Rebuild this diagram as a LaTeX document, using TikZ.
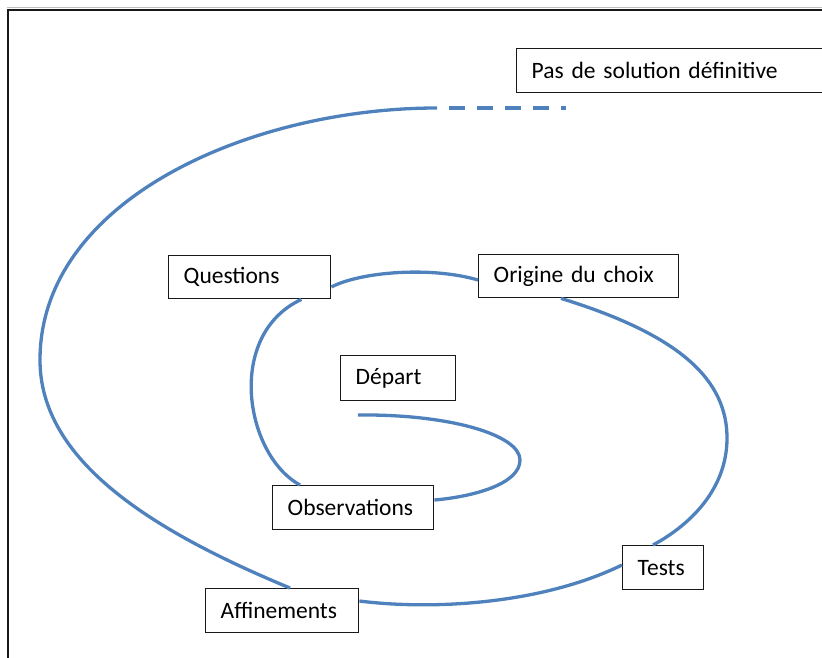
\documentclass[tikz,border=0pt]{standalone}
\usepackage{fontspec}
\setmainfont[WordSpace=0.6]{Carlito}
\usetikzlibrary{calc}
\definecolor{spiralblue}{RGB}{79,129,189}
\begin{document}
\begin{tikzpicture}[x=1pt,y=-1pt,
  box/.style={draw=black!90, line width=1.4pt, fill=white, rectangle, anchor=north west,
    inner xsep=15pt, inner ysep=0pt, align=left,
    font=\fontsize{23.5}{28}\selectfont},
  spiral/.style={draw=spiralblue, line width=3.3pt},
  frameline/.style={draw=black!90, line width=2pt}]
\useasboundingbox (0,0) rectangle (822,658);
% frame (top and left sides visible)
\draw[black!25, line width=1pt] (7,7.5) -- (822,7.5);
\draw[frameline] (822,10) -- (8,10) -- (8,658);
% boxes
\node[box, text width=276pt, minimum height=44pt] (pas) at (516,48) {Pas de solution définitive};
\node[box, text width=132pt, minimum height=43pt] (q) at (168,255) {Questions};
\node[box, text width=170pt, minimum height=43pt] (orig) at (478,254) {Origine du choix};
\node[box, text width=85pt, minimum height=45pt] (dep) at (340,355) {Départ};
\node[box, text width=131pt, minimum height=44pt] (obs) at (272,485) {Observations};
\node[box, text width=51pt, minimum height=44pt] (tests) at (622,545) {Tests};
\node[box, text width=123pt, minimum height=44pt] (aff) at (205,588) {Affinements};
% spiral coordinates
\coordinate (start) at (358,415);
\coordinate (solidend) at (437,108);
\coordinate (dashend) at (566,108);
% spiral segments
\draw[spiral] (start) .. controls (450,414) and (520,435) .. (520,460)
  .. controls (520,485) and (470,497) .. ($(obs.north east)+(0,15)$);
\draw[spiral] ($(obs.north west)+(28,0)$) .. controls (245,455) and (225,335) .. ($(q.south east)+(-30,0)$);
\draw[spiral] ($(q.north east)+(0,32)$) .. controls (360,272) and (430,266) .. ($(orig.north west)+(0,26)$);
\draw[spiral] ($(orig.south west)+(83,0)$) .. controls (680,335) and (728,380) .. (727,440)
  .. controls (726,490) and (690,525) .. ($(tests.north west)+(31,0)$);
\draw[spiral] ($(tests.north west)+(0,20)$) .. controls (540,605) and (430,610) .. ($(aff.north east)+(0,13)$);
\draw[spiral] ($(aff.north west)+(85,0)$) .. controls (150,530) and (40,460) .. (40,360)
  .. controls (40,200) and (250,108) .. (solidend);
\draw[spiral, dash pattern=on 16pt off 12pt, dash phase=16pt] (solidend) -- (dashend);
\end{tikzpicture}
\end{document}
